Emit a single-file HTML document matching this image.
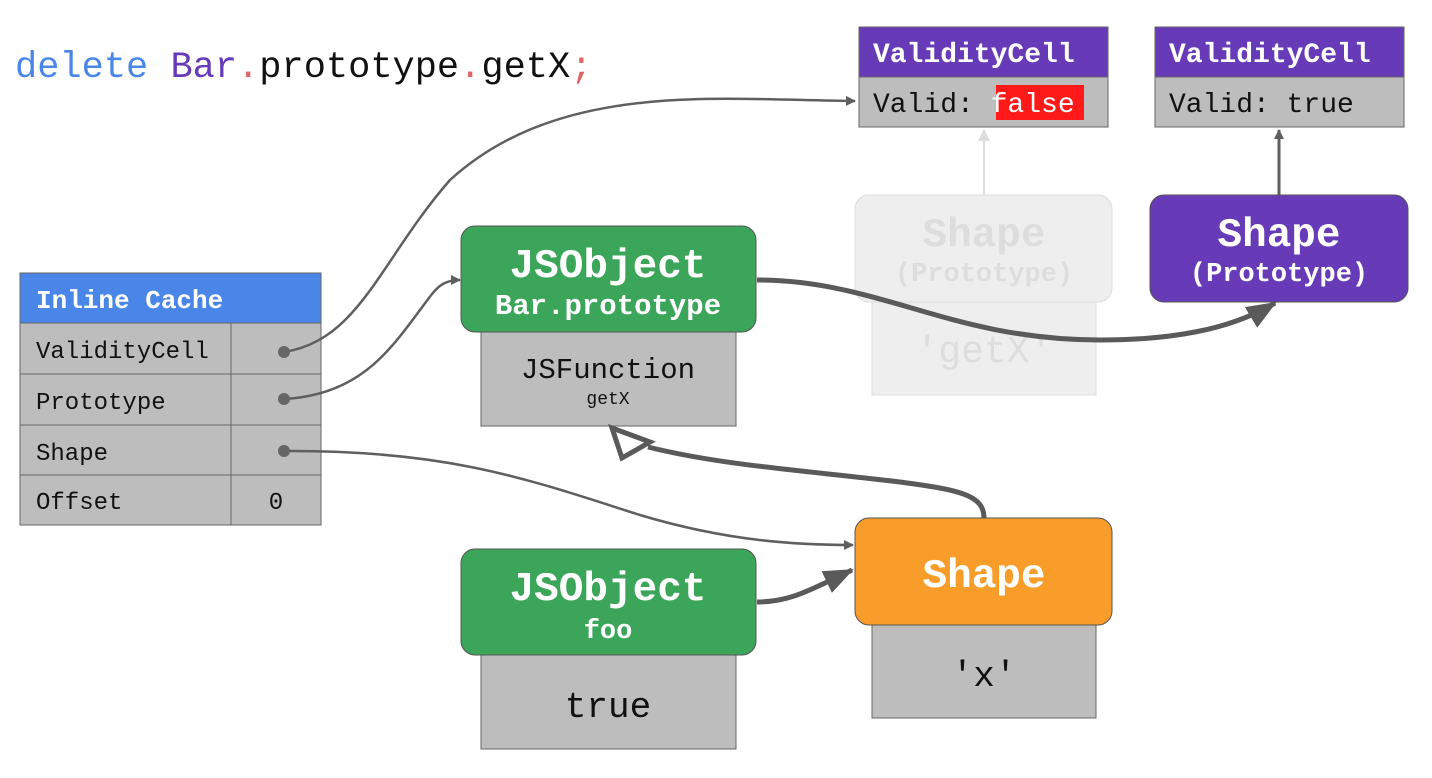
<!DOCTYPE html>
<html><head><meta charset="utf-8"><style>
html,body{margin:0;padding:0;background:#fff;}
svg{display:block;}
text{font-family:"Liberation Mono","DejaVu Sans Mono",monospace;}
</style></head><body>
<svg width="1432" height="778" viewBox="0 0 1432 778" xmlns="http://www.w3.org/2000/svg">
<defs>
<marker id="a" markerWidth="10" markerHeight="10" refX="9" refY="5" orient="auto" markerUnits="userSpaceOnUse"><path d="M0,0 L10,5 L0,10 z" fill="#5f5f5f"/></marker>
<marker id="b" markerWidth="30" markerHeight="30" refX="28" refY="15" orient="auto" markerUnits="userSpaceOnUse"><path d="M0,3 L30,15 L0,27 z" fill="#5a5a5a"/></marker>
<marker id="g" markerWidth="12" markerHeight="12" refX="11" refY="6" orient="auto" markerUnits="userSpaceOnUse"><path d="M0,0 L12,6 L0,12 z" fill="#ddd"/></marker>
</defs>

<text x="15" y="77" font-size="37"><tspan fill="#4a86e8">delete</tspan> <tspan fill="#673ab7">Bar</tspan><tspan fill="#e06666">.</tspan><tspan fill="#111">prototype</tspan><tspan fill="#e06666">.</tspan><tspan fill="#111">getX</tspan><tspan fill="#e06666">;</tspan></text>

<!-- Validity cells -->
<rect x="859" y="27" width="249" height="50" fill="#673ab7" stroke="#666"/>
<rect x="859" y="77" width="249" height="50" fill="#bdbdbd" stroke="#666"/>
<text x="873" y="62" font-size="28" font-weight="bold" fill="#fff">ValidityCell</text>
<rect x="996" y="85" width="88" height="35" fill="#ff1a1a"/>
<text x="873" y="112" font-size="28" fill="#111">Valid: <tspan fill="#fff">false</tspan></text>
<rect x="1155" y="27" width="249" height="50" fill="#673ab7" stroke="#666"/>
<rect x="1155" y="77" width="249" height="50" fill="#bdbdbd" stroke="#666"/>
<text x="1169" y="62" font-size="28" font-weight="bold" fill="#fff">ValidityCell</text>
<text x="1169" y="112" font-size="28" fill="#111">Valid: true</text>

<!-- ghost shape -->
<line x1="984" y1="195" x2="984" y2="130" stroke="#ddd" stroke-width="2" marker-end="url(#g)"/>
<rect x="872" y="302" width="224" height="93" fill="#eee" stroke="#ddd"/>
<rect x="855" y="195" width="257" height="107" rx="14" fill="#eee" stroke="#ddd"/>
<text x="984" y="246" font-size="41" font-weight="bold" fill="#ddd" text-anchor="middle">Shape</text>
<text x="984" y="281" font-size="27" font-weight="bold" fill="#ddd" text-anchor="middle">(Prototype)</text>
<text x="984" y="362" font-size="38" fill="#ddd" text-anchor="middle">'getX'</text>

<!-- purple shape -->
<line x1="1279" y1="195" x2="1279" y2="130" stroke="#5f5f5f" stroke-width="3" marker-end="url(#a)"/>
<rect x="1150" y="195" width="258" height="107" rx="14" fill="#673ab7" stroke="#555"/>
<text x="1279" y="246" font-size="41" font-weight="bold" fill="#fff" text-anchor="middle">Shape</text>
<text x="1279" y="281" font-size="27" font-weight="bold" fill="#fff" text-anchor="middle">(Prototype)</text>

<!-- Inline cache -->
<rect x="20" y="273" width="301" height="50" fill="#4a86e8" stroke="#666"/>
<text x="36" y="308" font-size="26" font-weight="bold" fill="#fff">Inline Cache</text>
<g fill="#bdbdbd" stroke="#666">
<rect x="20" y="323" width="211" height="51"/><rect x="231" y="323" width="90" height="51"/>
<rect x="20" y="374" width="211" height="51"/><rect x="231" y="374" width="90" height="51"/>
<rect x="20" y="425" width="211" height="50"/><rect x="231" y="425" width="90" height="50"/>
<rect x="20" y="475" width="211" height="50"/><rect x="231" y="475" width="90" height="50"/>
</g>
<g font-size="24" fill="#111">
<text x="36" y="358">ValidityCell</text>
<text x="36" y="409">Prototype</text>
<text x="36" y="460">Shape</text>
<text x="36" y="509">Offset</text>
<text x="276" y="509" text-anchor="middle">0</text>
</g>

<!-- Bar.prototype -->
<rect x="481" y="332" width="255" height="94" fill="#bdbdbd" stroke="#666"/>
<rect x="461" y="226" width="295" height="106" rx="14" fill="#3ba55a" stroke="#555"/>
<text x="608" y="277" font-size="41" font-weight="bold" fill="#fff" text-anchor="middle">JSObject</text>
<text x="608" y="314" font-size="29" font-weight="bold" fill="#fff" text-anchor="middle">Bar.prototype</text>
<text x="608" y="378" font-size="29" fill="#111" text-anchor="middle">JSFunction</text>
<text x="608" y="404" font-size="18" fill="#111" text-anchor="middle">getX</text>

<!-- Orange shape -->
<rect x="872" y="625" width="224" height="93" fill="#bdbdbd" stroke="#666"/>
<rect x="855" y="518" width="257" height="107" rx="14" fill="#f99d2a" stroke="#555"/>
<text x="984" y="587" font-size="41" font-weight="bold" fill="#fff" text-anchor="middle">Shape</text>
<text x="984" y="686" font-size="36" fill="#111" text-anchor="middle">'x'</text>

<!-- foo -->
<rect x="481" y="655" width="255" height="94" fill="#bdbdbd" stroke="#666"/>
<rect x="461" y="549" width="295" height="106" rx="14" fill="#3ba55a" stroke="#555"/>
<text x="608" y="600" font-size="41" font-weight="bold" fill="#fff" text-anchor="middle">JSObject</text>
<text x="608" y="638" font-size="27" font-weight="bold" fill="#fff" text-anchor="middle">foo</text>
<text x="608" y="717" font-size="36" fill="#111" text-anchor="middle">true</text>

<!-- connectors -->
<g fill="none" stroke="#5f5f5f" stroke-width="2.5">
<path d="M284,352 C360,340 380,260 450,180 C560,80 720,100 855,101" marker-end="url(#a)"/>
<path d="M284,399 C360,395 390,350 420,310 C435,290 440,280 460,280" marker-end="url(#a)"/>
<path d="M284,451 C450,450 530,480 640,515 C730,542 800,545 853,545" marker-end="url(#a)"/>
</g>
<g fill="#666"><circle cx="284" cy="352" r="6"/><circle cx="284" cy="399" r="6"/><circle cx="284" cy="451" r="6"/></g>
<path d="M757,280 C880,280 950,340 1100,340 C1170,340 1230,330 1275,303" fill="none" stroke="#5a5a5a" stroke-width="5" marker-end="url(#b)"/>
<path d="M757,602 C790,602 810,590 852,570" fill="none" stroke="#5a5a5a" stroke-width="5" marker-end="url(#b)"/>
<path d="M984,518 C984,495 960,490 900,482 C800,470 720,465 648,447" fill="none" stroke="#5a5a5a" stroke-width="5"/>
<path d="M612,428 L650,442 L622,458 z" fill="#fff" stroke="#5a5a5a" stroke-width="5" stroke-linejoin="miter"/>
</svg>
</body></html>
